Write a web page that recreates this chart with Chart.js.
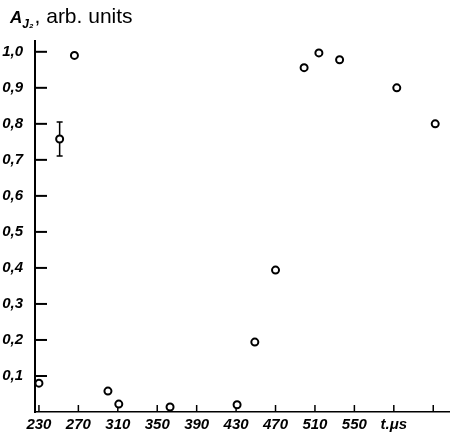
<!DOCTYPE html>
<html>
<head>
<meta charset="utf-8">
<script src="https://cdn.jsdelivr.net/npm/chart.js@4/dist/chart.umd.min.js"></script>
<style>
  html, body { margin: 0; padding: 0; background: #fff; }
  #wrap { position: relative; width: 450px; height: 432px; }
  #ylabel { position: absolute; left: 10px; top: 4px; font: 21px "Liberation Sans", Arial, sans-serif; color: #000; white-space: nowrap; }
  #ylabel .a { font-style: italic; font-weight: bold; font-size: 17px; }
  #ylabel sub { font-style: italic; font-weight: bold; font-size: 12px; margin-right: 1px; }
</style>
</head>
<body>
<div id="wrap">
  <canvas id="chart" width="450" height="432"></canvas>
  <div id="ylabel"><span class="a">A</span><sub>J₂</sub>, arb. units</div>
</div>
<script>
'use strict';

// time, microseconds
const tValues = [230, 251, 266, 300, 311, 363, 431, 449, 470, 499, 514, 535, 593, 632];
// amplitude, arb. units
const aValues = [0.08, 0.758, 0.99, 0.058, 0.022, 0.014, 0.02, 0.194, 0.394, 0.956, 0.997, 0.978, 0.90, 0.80];

// the one error bar
const errT = [251];
const errLow = [0.711];
const errHigh = [0.805];

const xTicks = [230, 270, 310, 350, 390, 430, 470, 510, 550, 590, 630];
const xTickLabels = ['230', '270', '310', '350', '390', '430', '470', '510', '550', 't.\u03bcs', ''];
const yTicks = [0, 0.1, 0.2, 0.3, 0.4, 0.5, 0.6, 0.7, 0.8, 0.9, 1.0];

const tickFont = { family: '"Liberation Sans", Arial, sans-serif', size: 15, style: 'italic', weight: 'bold' };

const axisMarks = {
  id: 'axisMarks',
  beforeDatasetsDraw(chart) {
    const { ctx, scales: { x, y } } = chart;
    ctx.save();
    ctx.strokeStyle = '#000';
    ctx.lineWidth = 1.5;
    errT.forEach((t, i) => {
      const px = x.getPixelForValue(t);
      const top = y.getPixelForValue(errHigh[i]);
      const bot = y.getPixelForValue(errLow[i]);
      ctx.beginPath();
      ctx.moveTo(px, top); ctx.lineTo(px, bot);
      ctx.moveTo(px - 3, top); ctx.lineTo(px + 3, top);
      ctx.moveTo(px - 3, bot); ctx.lineTo(px + 3, bot);
      ctx.stroke();
    });
    // inward ticks
    ctx.lineWidth = 2;
    yTicks.forEach(v => {
      if (v === 0) return;
      const py = y.getPixelForValue(v);
      ctx.beginPath();
      ctx.moveTo(x.left, py); ctx.lineTo(x.left + 12, py);
      ctx.stroke();
    });
    ctx.lineWidth = 1.5;
    xTicks.forEach(v => {
      const px = x.getPixelForValue(v);
      ctx.beginPath();
      ctx.moveTo(px, y.bottom); ctx.lineTo(px, y.bottom - 7);
      ctx.stroke();
    });
    ctx.restore();
  }
};

new Chart(document.getElementById('chart'), {
  type: 'scatter',
  data: {
    datasets: [{
      data: tValues.map((t, i) => ({ x: t, y: aValues[i] })),
      pointStyle: 'circle',
      pointRadius: 3.5,
      pointBorderWidth: 2,
      pointBackgroundColor: '#fff',
      pointBorderColor: '#000',
      clip: false
    }]
  },
  options: {
    responsive: false,
    animation: false,
    events: [],
    layout: { autoPadding: false, padding: { top: 41, right: 0, left: 0, bottom: 0 } },
    plugins: { legend: { display: false }, tooltip: { enabled: false } },
    scales: {
      x: {
        type: 'linear',
        min: 226,
        max: 647,
        grid: { display: false },
        border: { display: true, color: '#000', width: 1.5 },
        afterBuildTicks: s => { s.ticks = xTicks.map(v => ({ value: v })); },
        afterFit: s => { s.height = 20; s.paddingLeft = 0; s.paddingRight = 0; },
        ticks: {
          color: '#000',
          font: tickFont,
          padding: -4,
          maxRotation: 0,
          autoSkip: false,
          callback: v => { const i = xTicks.indexOf(v); return i >= 0 ? xTickLabels[i] : ''; }
        }
      },
      y: {
        min: 0,
        max: 1.03,
        grid: { display: false },
        border: { display: true, color: '#000', width: 2 },
        afterBuildTicks: s => { s.ticks = yTicks.map(v => ({ value: v })); },
        afterFit: s => { s.width = 35; },
        ticks: {
          color: '#000',
          font: tickFont,
          padding: 4,
          autoSkip: false,
          callback: v => v === 0 ? '' : v.toFixed(1).replace('.', ',')
        }
      }
    }
  },
  plugins: [axisMarks]
});
</script>
</body>
</html>
